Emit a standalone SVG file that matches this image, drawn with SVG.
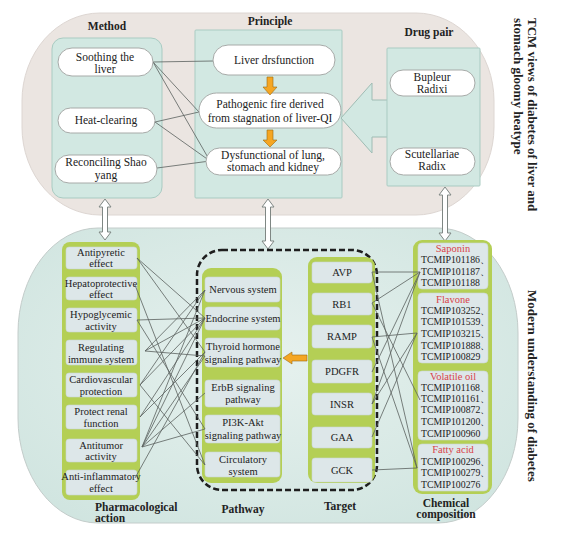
<svg xmlns="http://www.w3.org/2000/svg" width="563" height="533" viewBox="0 0 563 533">
<defs>
<style>
text{font-family:"Liberation Serif","Times New Roman",serif;fill:#222;}
.t{font-size:11.5px;text-anchor:middle;}
.s{font-size:10.5px;text-anchor:middle;}
.c{font-size:9.8px;}
.ch{font-size:10.5px;text-anchor:middle;fill:#d9434a;}
.lb{font-size:11.5px;font-weight:bold;}
.vt{font-size:13px;font-weight:bold;}
.box{fill:#d2e8e2;stroke:#a9cbc2;stroke-width:1;}
.pill{fill:#fff;stroke:#a7aaa8;stroke-width:1;}
.green{fill:#b4cf55;}
.nd{fill:#dde7e9;stroke:#c9d6d3;stroke-width:0.6;}
.ln{stroke:#5a615e;stroke-width:0.8;fill:none;}
.dbl{fill:#fff;stroke:#7f8784;stroke-width:1;}
.org{fill:#f5a623;stroke:#9c6a12;stroke-width:0.6;}
</style>
<radialGradient id="bg2" cx="0.5" cy="0.45" r="0.7">
<stop offset="0" stop-color="#e6f1ee"/>
<stop offset="1" stop-color="#cfe4df"/>
</radialGradient>
</defs>

<!-- panels -->
<rect x="22" y="13" width="472" height="202" rx="78" ry="88" fill="#ebe5e1" stroke="#ddd6d2"/>
<rect x="18" y="228" width="500" height="295" rx="80" ry="105" fill="url(#bg2)" stroke="#c3ccca"/>

<!-- vertical titles -->
<text class="vt" transform="translate(528,18) rotate(90)">TCM views of diabetes  of liver and</text>
<text class="vt" transform="translate(514,18) rotate(90)">stomach gloomy heatype</text>
<text class="vt" transform="translate(528,290) rotate(90)">Modern understanding of diabetes</text>

<!-- top section -->
<g id="method">
<text class="lb" x="107" y="30" text-anchor="middle">Method</text>
<rect class="box" x="52" y="38" width="110" height="160" rx="11"/>
</g>
<g id="principle">
<text class="lb" x="270" y="25" text-anchor="middle">Principle</text>
<rect class="box" x="195" y="30" width="147" height="168" rx="1"/>
</g>
<g id="drugpair">
<text class="lb" x="429" y="36" text-anchor="middle">Drug pair</text>
<polygon points="341,118 372,83 372,100 388,100 388,137 372,137 372,153" fill="#d2e8e2"/>
<polyline points="387,100 372,100 372,83 341,118 372,153 372,137 387,137" fill="none" stroke="#9fbcb4" stroke-width="1"/>
<rect class="box" x="387" y="48" width="93" height="138" rx="1"/>
</g>

<g id="connectors-top">
<line class="ln" x1="153" y1="62" x2="213" y2="61"/>
<line class="ln" x1="153" y1="62" x2="199" y2="112"/>
<line class="ln" x1="153" y1="62" x2="210" y2="161"/>
<line class="ln" x1="155" y1="122" x2="199" y2="112"/>
<line class="ln" x1="155" y1="122" x2="210" y2="161"/>
<line class="ln" x1="157" y1="168" x2="210" y2="161"/>
</g>

<g id="n-soothing"><rect class="pill" x="58" y="48" width="95" height="28" rx="14"/><text class="t" x="105" y="61">Soothing the</text><text class="t" x="105" y="73">liver</text></g>
<g id="n-heat"><rect class="pill" x="58" y="108" width="97" height="25" rx="12.5"/><text class="t" x="106" y="124">Heat-clearing</text></g>
<g id="n-reconciling"><rect class="pill" x="55" y="155" width="102" height="28" rx="14"/><text class="t" x="106" y="166">Reconciling Shao</text><text class="t" x="106" y="179">yang</text></g>

<g id="n-liver"><rect class="pill" x="213" y="45" width="122" height="30" rx="15"/><text class="t" x="274" y="64">Liver drsfunction</text></g>
<g id="n-pathogenic"><rect class="pill" x="199" y="93" width="142" height="35" rx="17.5"/><text class="t" x="270" y="108">Pathogenic fire derived</text><text class="t" x="270" y="122">from stagnation of liver-QI</text></g>
<g id="n-dysfunction"><rect class="pill" x="206" y="148" width="135" height="27" rx="13.5"/><text class="t" x="273" y="159">Dysfunctional of lung,</text><text class="t" x="273" y="171">stomach and kidney</text></g>

<g id="orange-down">
<polygon class="org" points="267,77 273,77 273,87 277,87 270,95 263,87 267,87"/>
<polygon class="org" points="267,130 273,130 273,140 277,140 270,147 263,140 267,140"/>
</g>

<g id="n-bupleur"><rect class="pill" x="390" y="70" width="85" height="26" rx="13"/><text class="t" x="432" y="81">Bupleur</text><text class="t" x="432" y="93">Radixi</text></g>
<g id="n-scutellariae"><rect class="pill" x="390" y="148" width="85" height="27" rx="13.5"/><text class="t" x="432" y="158">Scutellariae</text><text class="t" x="432" y="170">Radix</text></g>

<!-- double arrows -->
<g id="links-vertical">
<polygon class="dbl" points="105,199 111,207 107.5,207 107.5,232 111,232 105,240 99,232 102.5,232 102.5,207 99,207"/>
<polygon class="dbl" points="268,199 274,207 270.5,207 270.5,241 274,241 268,249 262,241 265.5,241 265.5,207 262,207"/>
<polygon class="dbl" points="445,187 451,195 447.5,195 447.5,233 451,233 445,241 439,233 442.5,233 442.5,195 439,195"/>
</g>

<!-- bottom section -->
<g id="pharmacological">
<rect class="green" x="62" y="242" width="78" height="258" rx="8"/>
<text class="lb" x="95" y="511">Pharmacological</text>
<text class="lb" x="95" y="522">action</text>
</g>
<g id="n-antipyretic"><rect class="nd" x="66" y="247" width="71" height="22" rx="3"/><text class="s" x="101" y="256">Antipyretic</text><text class="s" x="101" y="267">effect</text></g>
<g id="n-hepato"><rect class="nd" x="66" y="277" width="71" height="23" rx="3"/><text class="s" x="101" y="287">Hepatoprotective</text><text class="s" x="101" y="298">effect</text></g>
<g id="n-hypo"><rect class="nd" x="66" y="308" width="71" height="24" rx="3"/><text class="s" x="101" y="318">Hypoglycemic</text><text class="s" x="101" y="330">activity</text></g>
<g id="n-immune"><rect class="nd" x="66" y="340" width="71" height="25" rx="3"/><text class="s" x="101" y="351">Regulating</text><text class="s" x="101" y="363">immune system</text></g>
<g id="n-cardio"><rect class="nd" x="66" y="373" width="71" height="24" rx="3"/><text class="s" x="101" y="383">Cardiovascular</text><text class="s" x="101" y="395">protection</text></g>
<g id="n-renal"><rect class="nd" x="66" y="405" width="71" height="24" rx="3"/><text class="s" x="101" y="415">Protect renal</text><text class="s" x="101" y="427">function</text></g>
<g id="n-antitumor"><rect class="nd" x="66" y="439" width="71" height="23" rx="3"/><text class="s" x="101" y="449">Antitumor</text><text class="s" x="101" y="460">activity</text></g>
<g id="n-antiinfl"><rect class="nd" x="66" y="470" width="71" height="25" rx="3"/><text class="s" x="101" y="480">Anti-inflammatory</text><text class="s" x="101" y="492">effect</text></g>

<g id="pathway">
<rect x="197" y="250" width="180" height="240" rx="25" fill="none" stroke="#1e1e1e" stroke-width="2.5" stroke-dasharray="6 3"/>
<rect class="green" x="202" y="268" width="80" height="215" rx="9"/>
<text class="lb" x="243" y="513" text-anchor="middle">Pathway</text>
</g>
<g id="n-nervous"><rect class="nd" x="205" y="277" width="75" height="25" rx="3"/><text class="s" x="243" y="293">Nervous system</text></g>
<g id="n-endocrine"><rect class="nd" x="205" y="307" width="75" height="23" rx="3"/><text class="s" x="243" y="322">Endocrine system</text></g>
<g id="n-thyroid"><rect class="nd" x="205" y="338" width="75" height="29" rx="3"/><text class="s" x="243" y="350">Thyroid hormone</text><text class="s" x="243" y="363">signaling pathway</text></g>
<g id="n-erbb"><rect class="nd" x="205" y="380" width="75" height="27" rx="3"/><text class="s" x="243" y="391">ErbB signaling</text><text class="s" x="243" y="403">pathway</text></g>
<g id="n-pi3k"><rect class="nd" x="205" y="415" width="75" height="28" rx="3"/><text class="s" x="243" y="426">PI3K-Akt</text><text class="s" x="243" y="439">signaling pathway</text></g>
<g id="n-circulatory"><rect class="nd" x="205" y="452" width="75" height="25" rx="3"/><text class="s" x="243" y="463">Circulatory</text><text class="s" x="243" y="475">system</text></g>

<g id="target">
<rect class="green" x="308" y="257" width="67" height="226" rx="9"/>
<text class="lb" x="340" y="510" text-anchor="middle">Target</text>
</g>
<g id="n-avp"><rect class="nd" x="312" y="262" width="60" height="21" rx="3"/><text class="s" x="342" y="276">AVP</text></g>
<g id="n-rb1"><rect class="nd" x="312" y="293" width="60" height="22" rx="3"/><text class="s" x="342" y="308">RB1</text></g>
<g id="n-ramp"><rect class="nd" x="312" y="325" width="60" height="23" rx="3"/><text class="s" x="342" y="340">RAMP</text></g>
<g id="n-pdgfr"><rect class="nd" x="312" y="360" width="60" height="23" rx="3"/><text class="s" x="342" y="375">PDGFR</text></g>
<g id="n-insr"><rect class="nd" x="312" y="393" width="60" height="22" rx="3"/><text class="s" x="342" y="408">INSR</text></g>
<g id="n-gaa"><rect class="nd" x="312" y="427" width="60" height="21" rx="3"/><text class="s" x="342" y="441">GAA</text></g>
<g id="n-gck"><rect class="nd" x="312" y="458" width="60" height="24" rx="3"/><text class="s" x="342" y="474">GCK</text></g>

<polygon class="org" points="283,358 292,352 292,355 307,355 307,361 292,361 292,364"/>

<g id="chemical">
<rect class="green" x="413" y="240" width="79" height="254" rx="9"/>
<text class="lb" x="446" y="507" text-anchor="middle">Chemical</text>
<text class="lb" x="446" y="518" text-anchor="middle">composition</text>
</g>
<g id="n-saponin"><rect class="nd" x="418" y="243" width="70" height="46" rx="4"/>
<text class="ch" x="453" y="252">Saponin</text>
<text class="c" x="421" y="263">TCMIP101186、</text><text class="c" x="421" y="275">TCMIP101187、</text><text class="c" x="421" y="286">TCMIP101188</text></g>
<g id="n-flavone"><rect class="nd" x="418" y="293" width="70" height="70" rx="4"/>
<text class="ch" x="453" y="303">Flavone</text>
<text class="c" x="421" y="314">TCMIP103252、</text><text class="c" x="421" y="325">TCMIP101539、</text><text class="c" x="421" y="337">TCMIP103215、</text><text class="c" x="421" y="349">TCMIP101888、</text><text class="c" x="421" y="360">TCMIP100829</text></g>
<g id="n-volatile"><rect class="nd" x="418" y="371" width="70" height="69" rx="4"/>
<text class="ch" x="453" y="380">Volatile oil</text>
<text class="c" x="421" y="391">TCMIP101168、</text><text class="c" x="421" y="402">TCMIP101161、</text><text class="c" x="421" y="413">TCMIP100872、</text><text class="c" x="421" y="425">TCMIP101200、</text><text class="c" x="421" y="437">TCMIP100960</text></g>
<g id="n-fatty"><rect class="nd" x="418" y="444" width="70" height="47" rx="4"/>
<text class="ch" x="453" y="453">Fatty acid</text>
<text class="c" x="421" y="465">TCMIP100296、</text><text class="c" x="421" y="476">TCMIP100279、</text><text class="c" x="421" y="488">TCMIP100276</text></g>

<g id="connectors-bottom">
<!-- pharmacological -> pathway -->
<line class="ln" x1="137" y1="258" x2="205" y2="318"/>
<line class="ln" x1="137" y1="258" x2="205" y2="352"/>
<line class="ln" x1="135" y1="285" x2="205" y2="465"/>
<line class="ln" x1="137" y1="320" x2="205" y2="318"/>
<line class="ln" x1="137" y1="320" x2="205" y2="429"/>
<line class="ln" x1="145" y1="351" x2="205" y2="290"/>
<line class="ln" x1="145" y1="351" x2="205" y2="318"/>
<line class="ln" x1="145" y1="351" x2="205" y2="356"/>
<line class="ln" x1="140" y1="385" x2="205" y2="290"/>
<line class="ln" x1="140" y1="385" x2="205" y2="318"/>
<line class="ln" x1="140" y1="385" x2="205" y2="465"/>
<line class="ln" x1="140" y1="417" x2="205" y2="318"/>
<line class="ln" x1="140" y1="417" x2="205" y2="352"/>
<line class="ln" x1="142" y1="447" x2="205" y2="290"/>
<line class="ln" x1="142" y1="447" x2="205" y2="318"/>
<line class="ln" x1="142" y1="447" x2="205" y2="356"/>
<line class="ln" x1="142" y1="447" x2="205" y2="393"/>
<line class="ln" x1="142" y1="447" x2="205" y2="429"/>
<line class="ln" x1="135" y1="478" x2="205" y2="352"/>
<!-- target -> chemical -->
<line class="ln" x1="372" y1="272" x2="420" y2="272"/>
<line class="ln" x1="372" y1="272" x2="417" y2="468"/>
<line class="ln" x1="372" y1="303" x2="420" y2="272"/>
<line class="ln" x1="372" y1="303" x2="420" y2="400"/>
<line class="ln" x1="372" y1="337" x2="417" y2="333"/>
<line class="ln" x1="372" y1="337" x2="417" y2="468"/>
<line class="ln" x1="372" y1="372" x2="420" y2="272"/>
<line class="ln" x1="372" y1="404" x2="417" y2="333"/>
<line class="ln" x1="372" y1="404" x2="420" y2="272"/>
<line class="ln" x1="372" y1="437" x2="417" y2="333"/>
<line class="ln" x1="372" y1="470" x2="417" y2="468"/>
</g>
</svg>
